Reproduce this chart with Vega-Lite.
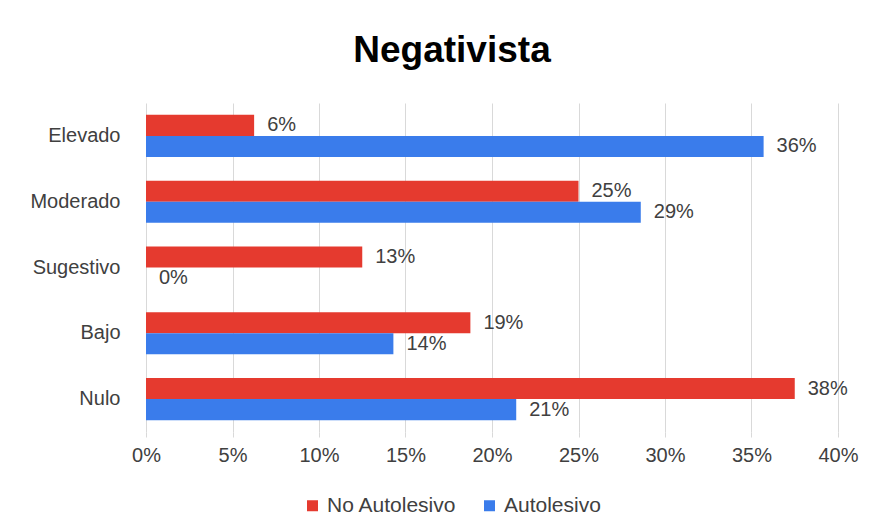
{
  "$schema": "https://vega.github.io/schema/vega-lite/v6.json",
  "autosize": {"type": "none"},
  "width": 692,
  "height": 329,
  "padding": {"left": 146, "top": 103, "right": 36, "bottom": 99},
  "background": "white",
  "config": {
    "font": "Liberation Sans",
    "view": {"stroke": null}
  },
  "title": {
    "text": "Negativista",
    "fontSize": 37,
    "fontWeight": "bold",
    "color": "#000000",
    "anchor": "middle",
    "frame": "group",
    "dx": -40,
    "offset": 33
  },
  "data": {
    "values": [
      {"nivel": "Elevado", "grupo": "No Autolesivo", "valor": 0.0625},
      {"nivel": "Elevado", "grupo": "Autolesivo", "valor": 0.357},
      {"nivel": "Moderado", "grupo": "No Autolesivo", "valor": 0.25},
      {"nivel": "Moderado", "grupo": "Autolesivo", "valor": 0.286},
      {"nivel": "Sugestivo", "grupo": "No Autolesivo", "valor": 0.125},
      {"nivel": "Sugestivo", "grupo": "Autolesivo", "valor": 0.0},
      {"nivel": "Bajo", "grupo": "No Autolesivo", "valor": 0.1875},
      {"nivel": "Bajo", "grupo": "Autolesivo", "valor": 0.143},
      {"nivel": "Nulo", "grupo": "No Autolesivo", "valor": 0.375},
      {"nivel": "Nulo", "grupo": "Autolesivo", "valor": 0.214}
    ]
  },
  "encoding": {
    "y": {
      "field": "nivel",
      "type": "nominal",
      "sort": ["Elevado", "Moderado", "Sugestivo", "Bajo", "Nulo"],
      "scale": {"paddingInner": 0.36, "paddingOuter": 0.18},
      "axis": {
        "title": null,
        "labelFontSize": 20,
        "labelColor": "#404040",
        "labelPadding": 26,
        "ticks": false,
        "domain": false
      }
    },
    "yOffset": {
      "field": "grupo",
      "type": "nominal",
      "sort": ["No Autolesivo", "Autolesivo"]
    },
    "x": {
      "field": "valor",
      "type": "quantitative",
      "scale": {"domain": [0, 0.4], "nice": false},
      "axis": {
        "title": null,
        "format": ".0%",
        "values": [0, 0.05, 0.1, 0.15, 0.2, 0.25, 0.3, 0.35, 0.4],
        "labelFontSize": 20,
        "labelColor": "#404040",
        "labelPadding": 8,
        "tickSize": 5,
        "tickColor": "#d9d9d9",
        "domain": false,
        "grid": true,
        "gridColor": "#d9d9d9",
        "labelFlush": false
      }
    }
  },
  "layer": [
    {
      "mark": {"type": "bar"},
      "encoding": {
        "color": {
          "field": "grupo",
          "type": "nominal",
          "sort": ["No Autolesivo", "Autolesivo"],
          "scale": {"domain": ["No Autolesivo", "Autolesivo"], "range": ["#E53A2F", "#3A7CEB"]},
          "legend": {
            "title": null,
            "orient": "none",
            "direction": "horizontal",
            "legendX": 156,
            "legendY": 392,
            "symbolType": "square",
            "symbolSize": 121,
            "symbolStrokeWidth": 0,
            "labelFontSize": 21,
            "labelColor": "#404040",
            "labelOffset": 4,
            "columnPadding": 22
          }
        }
      }
    },
    {
      "mark": {"type": "text", "align": "left", "baseline": "middle", "dx": 13, "fontSize": 20, "color": "#404040"},
      "encoding": {
        "text": {"field": "valor", "type": "quantitative", "format": ".0%"}
      }
    }
  ]
}
